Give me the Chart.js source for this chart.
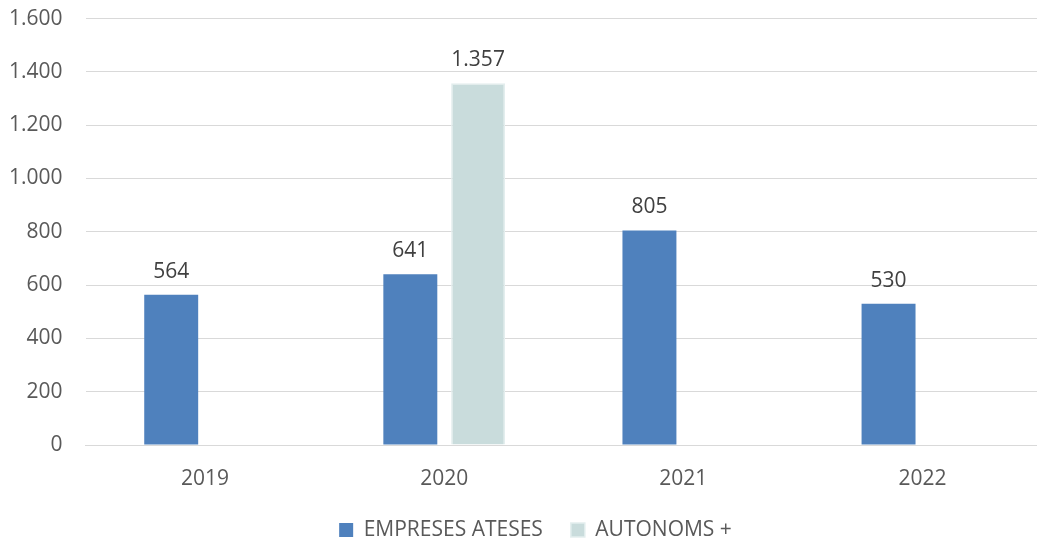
<!DOCTYPE html>
<html>
<head>
<meta charset="utf-8">
<script src="https://cdn.jsdelivr.net/npm/chart.js@4"></script>
<style>
    html, body { margin: 0; padding: 0; background: #fff; overflow: hidden; }
    /* plot area runs a few px past the right edge, as in the original */
    #wrap { width: 1042px; height: 540px; }
</style>
</head>
<body>
<div id="wrap"><canvas id="chart"></canvas></div>
<script>
const years = ['2019', '2020', '2021', '2022'];
const empresesAteses = [564, 641, 805, 530];
const autonoms = [null, 1357, null, null];

function fmt(v) {
    return v.toLocaleString('de-DE');
}

// draws the value above each bar
const valueLabels = {
    id: 'valueLabels',
    afterDatasetsDraw(chart) {
        let ctx = chart.ctx;
        ctx.save();
        ctx.font = '21px "Open Sans", sans-serif';
        ctx.fillStyle = '#404040';
        ctx.textAlign = 'center';
        ctx.textBaseline = 'alphabetic';
        chart.data.datasets.forEach(function (ds, i) {
            chart.getDatasetMeta(i).data.forEach(function (bar, j) {
                if (ds.data[j] == null) return;
                ctx.fillText(fmt(ds.data[j]), bar.x, bar.y - 17);
            });
        });
        ctx.restore();
    }
};

// legend in the original sits a bit right of centre
const legendShift = {
    id: 'legendShift',
    afterLayout(chart) {
        chart.legend.left += 13;
        chart.legend.right += 13;
    }
};

let myChart = new Chart(document.getElementById('chart'), {
    type: 'bar',
    data: {
        labels: years,
        datasets: [{
            label: 'EMPRESES ATESES',
            data: empresesAteses,
            backgroundColor: '#4F81BD',
            borderWidth: 0,
            categoryPercentage: 0.567,
            barPercentage: 0.796
        }, {
            label: 'AUTONOMS +',
            data: autonoms,
            backgroundColor: '#C9DCDC',
            borderColor: '#E3EEEE',
            borderWidth: 1.5,
            categoryPercentage: 0.567,
            barPercentage: 0.796
        }]
    },
    options: {
        responsive: true,
        maintainAspectRatio: false,
        animation: false,
        layout: { padding: { left: 3, right: 0, top: 0, bottom: -10.6 } },
        scales: {
            x: {
                grid: { display: false, drawTicks: true, tickLength: 21.4 },
                border: { color: '#D9D9D9' },
                ticks: {
                    color: '#595959',
                    font: { family: '"Open Sans", sans-serif', size: 21 },
                    padding: 0
                }
            },
            y: {
                min: 0,
                max: 1600,
                border: { display: false },
                grid: { color: '#D9D9D9', drawTicks: true, tickLength: 17, tickColor: 'rgba(0,0,0,0)' },
                ticks: {
                    stepSize: 200,
                    color: '#595959',
                    padding: 6,
                    font: { family: '"Open Sans", sans-serif', size: 21 },
                    callback: function (v) { return fmt(v); }
                }
            }
        },
        plugins: {
            tooltip: { enabled: false },
            legend: {
                position: 'bottom',
                labels: {
                    color: '#595959',
                    font: { family: '"Open Sans", sans-serif', size: 21 },
                    boxWidth: 14,
                    boxHeight: 14,
                    padding: 28
                }
            }
        }
    },
    plugins: [valueLabels, legendShift]
});
</script>
</body>
</html>
